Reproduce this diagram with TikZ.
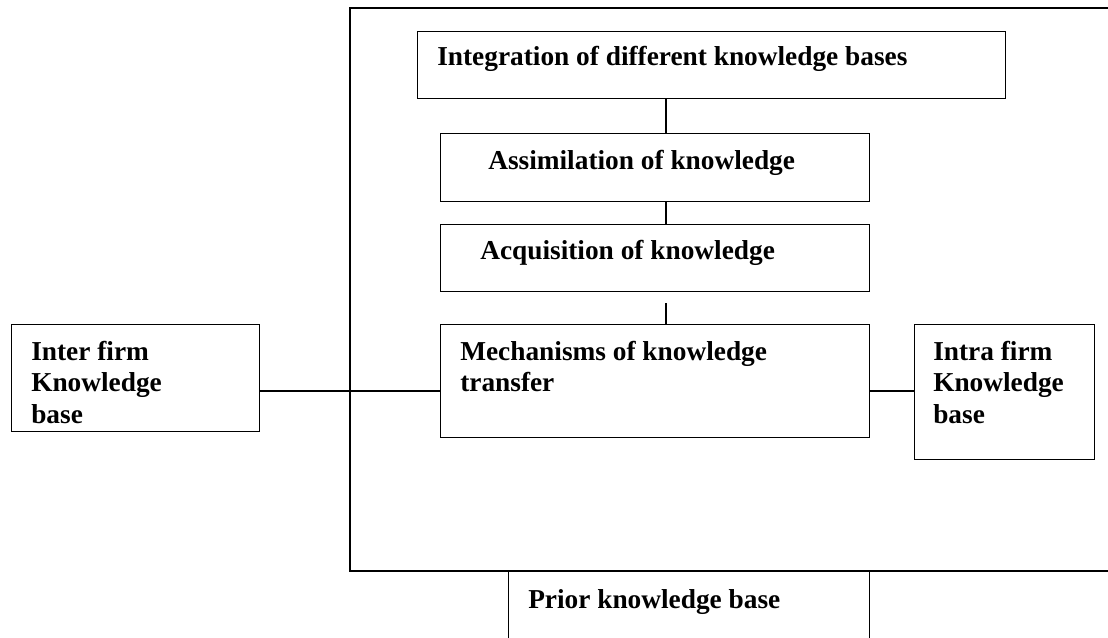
\documentclass[tikz,border=0pt]{standalone}
\usepackage{fontspec}
\setmainfont{Liberation Serif}
\usetikzlibrary{positioning}

\tikzset{
  box/.style={draw, line width=1.1pt, anchor=north west, inner sep=0pt},
  lbl/.style={anchor=base west, inner sep=0pt, align=left,
              font=\fontsize{20.5}{23.5}\selectfont\bfseries},
  link/.style={line width=1.1pt}
}

\begin{document}
\begin{tikzpicture}[x=0.75pt,y=-0.75pt]
%
         \clip (0,0) rectangle (1108,638);

         % outer frame, open on the right
         \coordinate (fTR) at (1112,8);
         \coordinate (fTL) at (350,8);
         \coordinate (fBL) at (350,571);
         \coordinate (fBR) at (1112,571);
         \draw [link] (fTR) -- (fTL) -- (fBL) -- (fBR);

         \node [box, minimum width=441pt, minimum height=50.25pt] (integ) at (417,31) {};
         \node [box, minimum width=321.75pt, minimum height=51pt] (assim) at (440,133) {};
         \node [box, minimum width=321.75pt, minimum height=50.25pt] (acq) at (440,224) {};
         \node [box, minimum width=321.75pt, minimum height=84.75pt] (mech) at (440,324) {};
         \node [box, minimum width=186pt, minimum height=80.25pt] (inter) at (11,324) {};
         \node [box, minimum width=135pt, minimum height=101.25pt] (intra) at (914,324) {};
         \node [box, minimum width=270.75pt, minimum height=100pt] (prior) at (508,571) {};

         % multi-line labels sit on their last baseline
         \node [lbl] (tInteg) at (437,66)  {Integration of different knowledge bases};
         \node [lbl] (tAssim) at (488,170) {Assimilation of knowledge};
         \node [lbl] (tAcq)   at (480,260) {Acquisition of knowledge};
         \node [lbl] (tMech)  at (460,392) {Mechanisms of knowledge\\transfer};
         \node [lbl] (tInter) at (31,423)  {Inter firm\\Knowledge\\base};
         \node [lbl] (tIntra) at (933,423) {Intra firm\\Knowledge\\base};
         \node [lbl] (tPrior) at (528,608) {Prior knowledge base};

         \coordinate (spine) at (666,0);
         \coordinate (mid)   at (0,391);

         \draw [link] (integ.south -| spine) -- (assim.north -| spine);
         \draw [link] (assim.south -| spine) -- (acq.north -| spine);
         \draw [link, shorten <=8.25pt] (acq.south -| spine) -- (mech.north -| spine);
         \draw [link] (inter.east |- mid) -- (mech.west |- mid);
         \draw [link] (mech.east |- mid) -- (intra.west |- mid);

\end{tikzpicture}
\end{document}
